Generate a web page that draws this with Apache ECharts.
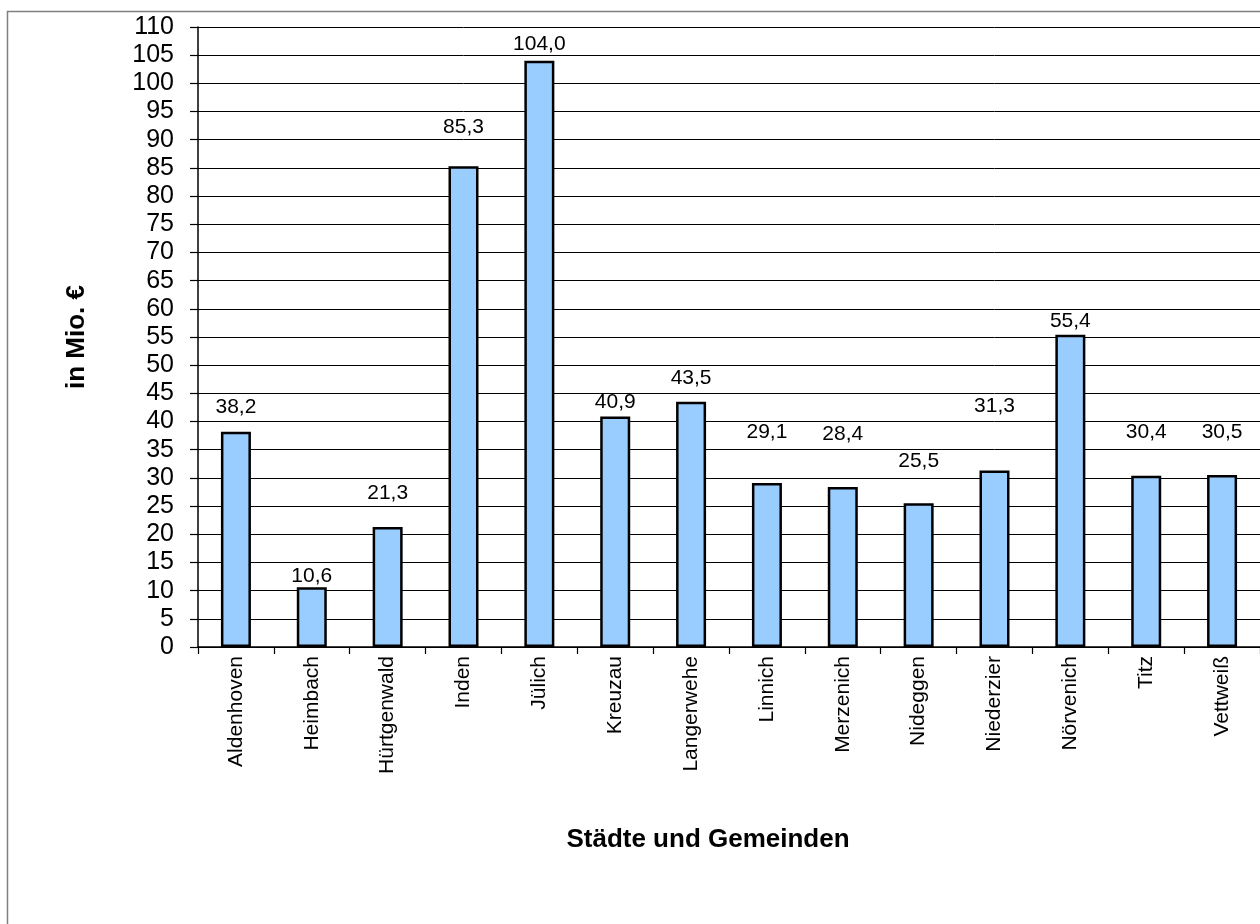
<!DOCTYPE html>
<html>
<head>
<meta charset="utf-8">
<title>Städte und Gemeinden – in Mio. €</title>
<script src="https://cdn.jsdelivr.net/npm/echarts@6/dist/echarts.min.js"></script>
<style>
  html, body { margin: 0; padding: 0; background: #ffffff; }
  #chart { width: 1260px; height: 924px; }
</style>
</head>
<body>
<div id="chart"></div>
<script>
// Städte und Gemeinden
const categories = ['Aldenhoven', 'Heimbach', 'Hürtgenwald', 'Inden', 'Jülich', 'Kreuzau',
  'Langerwehe', 'Linnich', 'Merzenich', 'Nideggen', 'Niederzier', 'Nörvenich', 'Titz', 'Vettweiß'];
// Werte in Mio. €
const values = [38.2, 10.6, 21.3, 85.3, 104.0, 40.9, 43.5, 29.1, 28.4, 25.5, 31.3, 55.4, 30.4, 30.5];
// y-axis range and step
const yMin = 0;
const yMax = 110;
const yStep = 5;
// gap between each bar top and its value label (px)
const labelGap = [14, 1, 23, 29, 6, 4, 13, 40, 42, 32, 54, 3, 33, 32];

const FONT = "'Liberation Sans', Arial, sans-serif";
const fmt = v => v.toFixed(1).replace('.', ',');

const chart = echarts.init(document.getElementById('chart'), null, { renderer: 'canvas' });

const barData = values.map((v, i) => ({
  value: v,
  label: { distance: labelGap[i] }
}));

chart.setOption({
  animation: false,
  backgroundColor: '#ffffff',
  grid: { left: 198, top: 27, width: 1075, height: 620, containLabel: false },
  xAxis: {
    type: 'category',
    data: categories,
    boundaryGap: true,
    axisLine: { show: true, lineStyle: { color: '#000', width: 1.5 } },
    axisTick: { show: true, length: 7, lineStyle: { color: '#000', width: 1.2 } },
    axisLabel: {
      rotate: 90,
      interval: 0,
      margin: 9,
      color: '#000',
      fontFamily: FONT,
      fontSize: 21
    },
    splitLine: { show: false }
  },
  yAxis: {
    type: 'value',
    min: yMin,
    max: yMax,
    interval: yStep,
    name: 'in Mio. €',
    nameLocation: 'middle',
    nameRotate: 90,
    nameGap: 108,
    nameTextStyle: { fontFamily: FONT, fontSize: 26, fontWeight: 'bold', color: '#000' },
    axisLine: { show: true, lineStyle: { color: '#000', width: 1.5 } },
    axisTick: { show: true, inside: false, length: 8, lineStyle: { color: '#000', width: 1.2 } },
    axisLabel: {
      margin: 24,
      color: '#000',
      fontFamily: FONT,
      fontSize: 25
    },
    splitLine: { show: true, lineStyle: { color: '#000', width: 1 } }
  },
  series: [{
    type: 'bar',
    data: barData,
    barWidth: 30,
    itemStyle: { color: '#99CCFF', borderColor: '#000', borderWidth: 2.5 },
    label: {
      show: true,
      position: 'top',
      color: '#000',
      fontFamily: FONT,
      fontSize: 21,
      formatter: p => fmt(p.value)
    }
  }],
  graphic: [
    {
      type: 'rect',
      z: -10,
      shape: { x: 7.5, y: 11.5, width: 1300, height: 1000 },
      style: { fill: 'none', stroke: '#808080', lineWidth: 1.5 }
    },
    {
      type: 'text',
      x: 708,
      y: 840,
      style: {
        text: 'Städte und Gemeinden',
        fontFamily: FONT,
        fontSize: 26,
        fontWeight: 'bold',
        fill: '#000',
        textAlign: 'center',
        textVerticalAlign: 'middle'
      }
    }
  ]
});
</script>
</body>
</html>
